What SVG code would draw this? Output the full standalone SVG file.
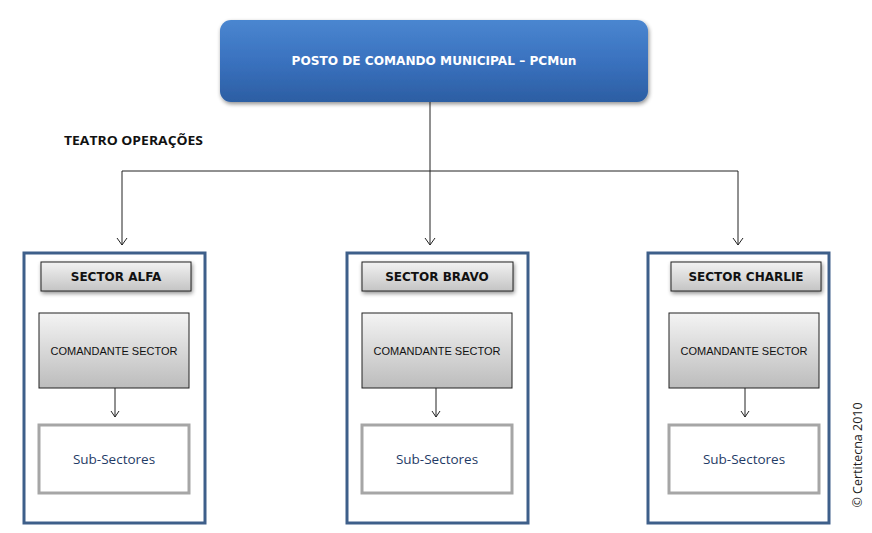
<svg xmlns="http://www.w3.org/2000/svg" width="872" height="533" viewBox="0 0 872 533">
<defs>
<linearGradient id="gBlue" x1="0" y1="0" x2="0" y2="1">
<stop offset="0" stop-color="#4a86d0"/><stop offset="0.5" stop-color="#3a72bf"/><stop offset="1" stop-color="#2c5ea3"/>
</linearGradient>
<linearGradient id="gTitle" x1="0" y1="0" x2="0" y2="1">
<stop offset="0" stop-color="#f2f2f2"/><stop offset="1" stop-color="#c4c4c4"/>
</linearGradient>
<linearGradient id="gCmd" x1="0" y1="0" x2="0" y2="1">
<stop offset="0" stop-color="#f4f4f4"/><stop offset="1" stop-color="#bcbcbc"/>
</linearGradient>
<filter id="sh" x="-10%" y="-20%" width="120%" height="150%">
<feGaussianBlur in="SourceAlpha" stdDeviation="2"/>
<feOffset dx="1" dy="2" result="b"/>
<feComponentTransfer><feFuncA type="linear" slope="0.45"/></feComponentTransfer>
<feMerge><feMergeNode/><feMergeNode in="SourceGraphic"/></feMerge>
</filter>
<marker id="arr" markerWidth="12" markerHeight="12" refX="10" refY="6" orient="auto" markerUnits="userSpaceOnUse" viewBox="0 0 12 12">
<path d="M3,1 L10,6 L3,11" fill="none" stroke="#222" stroke-width="1"/>
</marker>
<marker id="arrS" markerWidth="12" markerHeight="12" refX="10" refY="6" orient="auto" markerUnits="userSpaceOnUse" viewBox="0 0 12 12">
<path d="M4,2 L10,6 L4,10" fill="none" stroke="#222" stroke-width="1"/>
</marker>
</defs>
<style>
.frame{fill:#fff;stroke:#3e5f8a;stroke-width:3}
.title{fill:url(#gTitle);stroke:#222;stroke-width:1}
.cmd{fill:url(#gCmd);stroke:#222;stroke-width:1}
.sub{fill:#fff;stroke:#a6a6a6;stroke-width:3}
.tt{font-family:"DejaVu Sans","Liberation Sans",sans-serif;font-weight:bold;font-size:12px;fill:#111;text-anchor:middle}
.ct{font-family:"Liberation Sans",Arial,sans-serif;font-size:11px;fill:#111;text-anchor:middle}
.st{font-family:"Open Sans","Liberation Sans",sans-serif;font-size:13.5px;fill:#1f3b66;text-anchor:middle}
.conn{fill:none;stroke:#222;stroke-width:1}
</style>
<rect width="872" height="533" fill="#fff"/>

<g id="pcmun">
<rect x="220" y="20" width="428" height="82" rx="11" fill="url(#gBlue)" filter="url(#sh)"/>
<text x="434" y="65" font-family="DejaVu Sans,Verdana,sans-serif" font-weight="bold" font-size="11.5px" fill="#fff" text-anchor="middle" textLength="285" lengthAdjust="spacingAndGlyphs">POSTO DE COMANDO MUNICIPAL – PCMun</text>
</g>

<g id="teatro">
<text x="64" y="145" font-family="Open Sans,Liberation Sans,sans-serif" font-weight="bold" font-size="12.5px" fill="#111" textLength="139" lengthAdjust="spacingAndGlyphs">TEATRO OPERAÇÕES</text>
</g>

<g id="alfa">
<rect class="frame" x="24" y="253" width="181" height="270"/>
<rect class="title" x="41" y="262" width="150" height="29" filter="url(#sh)"/>
<text class="tt" x="116" y="281">SECTOR ALFA</text>
<rect class="cmd" x="39" y="313" width="150" height="75"/>
<text class="ct" x="114" y="355">COMANDANTE SECTOR</text>
<rect class="sub" x="39" y="425" width="150" height="68"/>
<text class="st" x="114" y="464">Sub-Sectores</text>
</g>

<g id="bravo">
<rect class="frame" x="347" y="253" width="181" height="270"/>
<rect class="title" x="362" y="262" width="151" height="29" filter="url(#sh)"/>
<text class="tt" x="437" y="281">SECTOR BRAVO</text>
<rect class="cmd" x="362" y="313" width="150" height="75"/>
<text class="ct" x="437" y="355">COMANDANTE SECTOR</text>
<rect class="sub" x="362" y="425" width="150" height="68"/>
<text class="st" x="437" y="464">Sub-Sectores</text>
</g>

<g id="charlie">
<rect class="frame" x="648" y="253" width="181" height="270"/>
<rect class="title" x="671" y="262" width="150" height="29" filter="url(#sh)"/>
<text class="tt" x="746" y="281">SECTOR CHARLIE</text>
<rect class="cmd" x="669" y="313" width="150" height="75"/>
<text class="ct" x="744" y="355">COMANDANTE SECTOR</text>
<rect class="sub" x="669" y="425" width="150" height="68"/>
<text class="st" x="744" y="464">Sub-Sectores</text>
</g>

<g id="copyright">
<text transform="translate(862,455) rotate(-90)" font-family="Open Sans,Liberation Sans,sans-serif" font-size="12.5px" fill="#222" text-anchor="middle">© Certitecna 2010</text>
</g>

<g id="connectors">
<path class="conn" d="M430,102 V171"/>
<path class="conn" d="M122,171 H738"/>
<path class="conn" d="M122,171 V245" marker-end="url(#arr)"/>
<path class="conn" d="M430,171 V245" marker-end="url(#arr)"/>
<path class="conn" d="M738,171 V245" marker-end="url(#arr)"/>
<path class="conn" d="M115,388 V417" marker-end="url(#arrS)"/>
<path class="conn" d="M436,388 V417" marker-end="url(#arrS)"/>
<path class="conn" d="M745,388 V417" marker-end="url(#arrS)"/>
</g>
</svg>
